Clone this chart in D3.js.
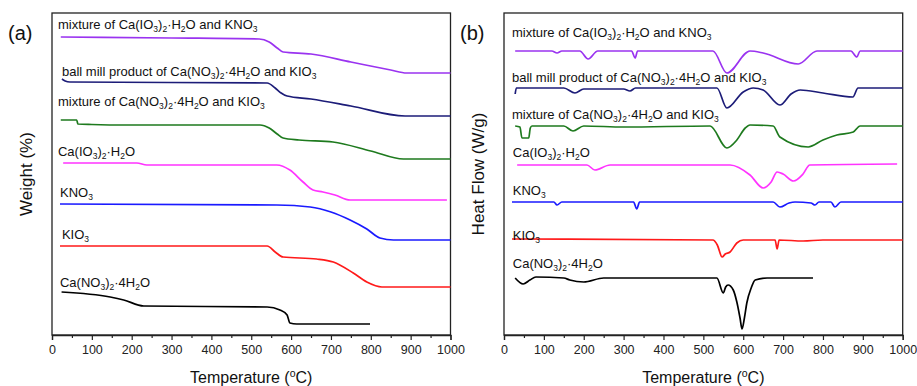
<!DOCTYPE html>
<html>
<head>
<meta charset="utf-8">
<script src="https://cdn.jsdelivr.net/npm/d3@7"></script>
<style>
  body { margin: 0; background: #fff; }
  svg { display: block; font-family: "Liberation Sans", Arial, sans-serif; }
</style>
</head>
<body>
<div id="graph"></div>
<script>
// curve names (underscore + digit = subscript)
const names = [
  'mixture of Ca(IO_3)_2·H_2O and KNO_3',
  'ball mill product of Ca(NO_3)_2·4H_2O and KIO_3',
  'mixture of Ca(NO_3)_2·4H_2O and KIO_3',
  'Ca(IO_3)_2·H_2O',
  'KNO_3',
  'KIO_3',
  'Ca(NO_3)_2·4H_2O'
];
const colors = ['#9a33f0', '#1c1c78', '#1e7a1e', '#ff33ff', '#1a1aff', '#ff1a1a', '#000000'];
const xTicks = [0, 100, 200, 300, 400, 500, 600, 700, 800, 900, 1000];

// TGA (a): [temperature, offset weight signal]
const tgaMix1 = [[22,298],[300,297],[520,296],[545,293],[565,287],[580,283],[650,281],[750,273],[850,265],[890,262],[1000,262]];
const tgaBall = [[25,256],[33,254],[45,253],[540,252],[560,247],[575,242],[590,239],[650,236],[750,229],[886,219],[1000,219]];
const tgaMix2 = [[22,215],[62,215],[65,211],[100,210.5],[188,210],[522,210],[545,207],[565,201],[580,197],[620,195],[705,193],[800,184],[882,176],[1000,176]];
const tgaCaIO = [[28,172],[213,172],[238,170],[564,170],[597,165],[630,153],[655,145],[680,143],[710,140],[748,135],[991,135]];
const tgaKNO = [[20,131],[564,130],[648,128],[700,123],[748,115],[790,106],[823,97],[857,95],[1000,95]];
const tgaKIO = [[20,89],[540,89],[560,83],[580,78],[664,76],[706,73],[756,62],[790,53],[828,48],[1000,48]];
const tgaCaNO = [[24,43],[146,38],[180,35],[230,29],[540,28],[572,25],[590,20],[597,12],[614,11],[798,11]];

// DSC (b): [temperature, offset heat flow signal]
const dscMix1 = [[28,284],[120,284],[133,282],[145,284],[190,284],[211,276],[235,284],[320,284],[329,277],[335,284],[524,284],[559,262],[617,284],[650,282],[738,271],[785,284],[870,284],[885,278],[893,284],[1000,284]];
const dscBall = [[28,241],[31,247],[150,247],[178,242],[200,246],[300,246],[316,244],[330,247],[534,247],[559,227],[600,243],[625,247],[650,245],[692,230],[720,241],[743,245],[800,242],[875,238],[888,247],[1000,247]];
const dscMix2 = [[28,209],[40,208],[45,197],[62,197],[66,207],[70,209],[150,209],[173,204],[200,209],[300,208],[517,209],[559,187],[584,195],[605,207],[617,210],[675,209],[692,198],[763,188],[800,195],[835,200],[876,203],[893,209],[1000,209]];
const dscCaIO = [[33,170],[208,170],[228,165],[266,170],[567,170],[617,160],[650,147],[670,153],[685,163],[700,161],[726,154],[750,161],[767,170],[986,171]];
const dscKNO = [[20,133],[125,133],[133,130],[145,133],[325,133],[333,126],[340,133],[675,133],[692,128],[715,132],[730,133],[770,132],[780,130],[790,133],[820,133],[830,128],[845,133],[1000,133]];
const dscKIO = [[20,96],[524,95],[535,90],[547,78],[555,81],[567,83],[584,92],[600,95],[680,95],[685,86],[690,95],[750,94],[800,95],[1000,95]];
const dscCaNO = [[28,57],[48,51],[65,55],[80,58],[150,57],[165,55],[200,53],[250,57],[534,57],[550,42],[556,48],[562,50],[575,45],[584,33],[592,17],[597,6],[603,17],[609,32],[620,47],[630,55],[660,57],[775,57]];

// label anchor: [temperature, signal] of label baseline start
const labelsA = [[15,306],[25,259],[15,229],[15,179],[20,138],[25,96],[20,48]];
const labelsB = [[20,298],[20,253],[20,216],[22,178],[22,140],[22,95],[22,67]];

const W = 917, H = 386;
const svg = d3.select('#graph').append('svg').attr('width', W).attr('height', H);

function addLabel(g, str, x, y) {
  const t = g.append('text').attr('x', x).attr('y', y).style('font-size', '13px').style('fill', '#111');
  const parts = str.split(/_(\d)/);
  parts.forEach((p, i) => {
    if (p === '') return;
    if (i % 2 === 1) {
      t.append('tspan').attr('dy', 3).style('font-size', '8.5px').text(p);
      t.append('tspan').attr('dy', -3).text('\u200b');
    } else {
      t.append('tspan').text(p);
    }
  });
}

function panel(left, right, tag, yTitle, series, labels) {
  const top = 13, bottom = 335;
  const x = d3.scaleLinear().domain([0, 1000]).range([left, right]);
  const y = d3.scaleLinear().domain([0, 322]).range([bottom, top]);
  const g = svg.append('g');

  g.append('rect').attr('x', left).attr('y', top).attr('width', right - left).attr('height', bottom - top)
    .style('fill', 'none').style('stroke', '#222').style('stroke-width', 1.3);

  const line = d3.line().x(d => x(d[0])).y(d => y(d[1])).curve(d3.curveMonotoneX);
  series.forEach((s, i) => {
    g.append('path').datum(s).attr('d', line)
      .style('fill', 'none').style('stroke', colors[i]).style('stroke-width', 1.7);
    addLabel(g, names[i], x(labels[i][0]), y(labels[i][1]));
  });

  const ax = g.append('g').attr('transform', `translate(0,${bottom})`)
    .call(d3.axisBottom(x).tickValues(xTicks).tickSize(5).tickPadding(5).tickFormat(d3.format('d')));
  ax.select('.domain').style('stroke', '#222').style('stroke-width', 1.3);
  ax.selectAll('.tick line').style('stroke', '#222').style('stroke-width', 1.2);
  ax.selectAll('text').style('font-size', '12.5px').style('fill', '#222').style('font-family', '"Liberation Sans", Arial, sans-serif');
  const minor = g.append('g').attr('transform', `translate(0,${bottom})`)
    .call(d3.axisBottom(x).tickValues(d3.range(50, 1000, 100)).tickSize(3).tickFormat(''));
  minor.select('.domain').remove();
  minor.selectAll('.tick line').style('stroke', '#222').style('stroke-width', 1.2);

  const xt = g.append('text').attr('x', (left + right) / 2).attr('y', 383).attr('text-anchor', 'middle')
    .style('font-size', '16px').style('fill', '#111');
  xt.append('tspan').text('Temperature (');
  xt.append('tspan').attr('dy', -6).style('font-size', '10.5px').text('o');
  xt.append('tspan').attr('dy', 6).text('C)');

  g.append('text').attr('transform', `translate(${left - 20},${(top + bottom) / 2}) rotate(-90)`)
    .attr('text-anchor', 'middle').style('font-size', '17px').style('fill', '#111').text(yTitle);

  g.append('text').attr('x', left - 44).attr('y', 40).style('font-size', '20px').style('fill', '#111').text(tag);
}

panel(52, 450.5, '(a)', 'Weight (%)', [tgaMix1, tgaBall, tgaMix2, tgaCaIO, tgaKNO, tgaKIO, tgaCaNO], labelsA);
panel(504, 902.7, '(b)', 'Heat Flow (W/g)', [dscMix1, dscBall, dscMix2, dscCaIO, dscKNO, dscKIO, dscCaNO], labelsB);
</script>
</body>
</html>
